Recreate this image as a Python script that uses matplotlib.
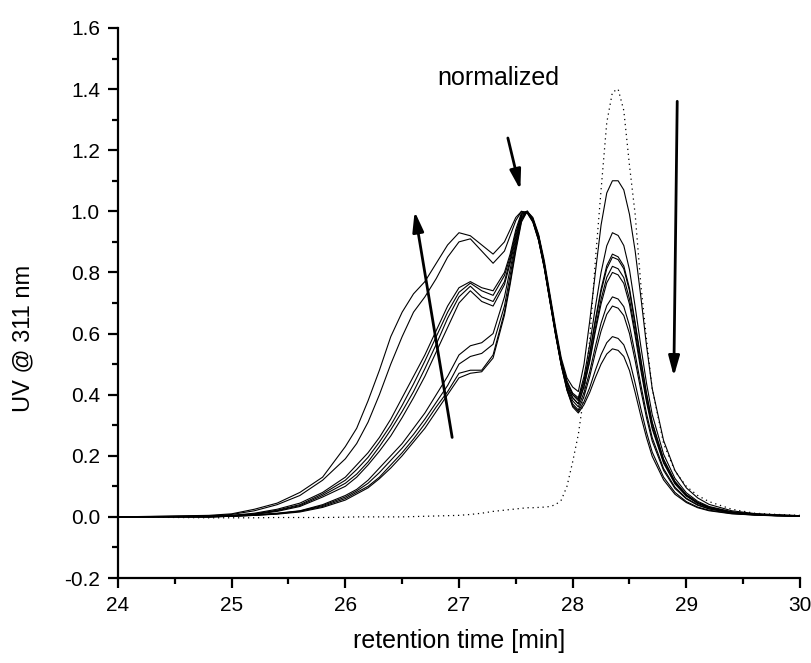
import matplotlib
matplotlib.use("Agg")
import matplotlib.pyplot as plt

plt.rcParams['font.family'] = ['Liberation Sans', 'DejaVu Sans']
plt.rcParams['axes.unicode_minus'] = False

# retention time grid [min]
t = [24.0, 24.8, 25.0, 25.2, 25.4, 25.6, 25.8, 26.0, 26.1, 26.2, 26.3, 26.4, 26.5,
     26.6, 26.7, 26.8, 26.9, 27.0, 27.1, 27.2, 27.3, 27.4, 27.45, 27.5, 27.55,
     27.6, 27.65, 27.7, 27.75, 27.8, 27.85, 27.9, 27.95, 28.0, 28.05, 28.1, 28.15,
     28.2, 28.25, 28.3, 28.35, 28.4, 28.45, 28.5, 28.55, 28.6, 28.65, 28.7, 28.8,
     28.9, 29.0, 29.1, 29.2, 29.4, 29.6, 29.8, 30.0]

# normalized traces (solid)
a1 = [0.0, 0.005, 0.01, 0.025, 0.045, 0.08, 0.13, 0.23, 0.29, 0.38, 0.48, 0.59, 0.67,
      0.73, 0.77, 0.83, 0.89, 0.93, 0.92, 0.89, 0.86, 0.90, 0.94, 0.98, 1.0,
      0.995, 0.965, 0.905, 0.815, 0.705, 0.595, 0.495, 0.415, 0.36, 0.34, 0.367, 0.407,
      0.456, 0.50, 0.533, 0.55, 0.545, 0.525, 0.479, 0.407, 0.33, 0.259, 0.198, 0.121,
      0.074, 0.047, 0.03, 0.02, 0.01, 0.006, 0.003, 0.002]
a2 = [0.0, 0.003, 0.008, 0.02, 0.04, 0.07, 0.12, 0.19, 0.24, 0.31, 0.40, 0.50, 0.59,
      0.67, 0.72, 0.78, 0.85, 0.90, 0.91, 0.87, 0.83, 0.87, 0.92, 0.97, 1.0,
      0.995, 0.965, 0.905, 0.815, 0.705, 0.595, 0.495, 0.415, 0.365, 0.345, 0.377, 0.423,
      0.48, 0.531, 0.57, 0.59, 0.584, 0.563, 0.513, 0.437, 0.354, 0.277, 0.212, 0.13,
      0.08, 0.05, 0.032, 0.022, 0.011, 0.006, 0.004, 0.002]
b1 = [0.0, 0.002, 0.005, 0.012, 0.025, 0.045, 0.08, 0.13, 0.17, 0.21, 0.26, 0.32, 0.39,
      0.46, 0.53, 0.61, 0.69, 0.75, 0.77, 0.75, 0.74, 0.80, 0.86, 0.94, 0.995,
      1.0, 0.97, 0.91, 0.82, 0.71, 0.60, 0.50, 0.42, 0.37, 0.35, 0.394, 0.459,
      0.537, 0.608, 0.663, 0.69, 0.683, 0.659, 0.60, 0.511, 0.414, 0.324, 0.248, 0.152,
      0.093, 0.059, 0.038, 0.026, 0.012, 0.007, 0.004, 0.003]
b2 = [0.0, 0.002, 0.004, 0.01, 0.022, 0.04, 0.075, 0.12, 0.155, 0.195, 0.245, 0.30, 0.365,
      0.435, 0.51, 0.59, 0.67, 0.735, 0.765, 0.74, 0.725, 0.79, 0.85, 0.93, 0.99,
      1.0, 0.97, 0.91, 0.82, 0.71, 0.60, 0.50, 0.425, 0.38, 0.36, 0.407, 0.475,
      0.558, 0.634, 0.691, 0.72, 0.713, 0.688, 0.626, 0.533, 0.432, 0.338, 0.259, 0.158,
      0.097, 0.061, 0.04, 0.027, 0.013, 0.007, 0.004, 0.003]
b3 = [0.0, 0.001, 0.004, 0.009, 0.02, 0.037, 0.07, 0.11, 0.14, 0.18, 0.23, 0.285, 0.345,
      0.41, 0.485, 0.565, 0.65, 0.72, 0.755, 0.72, 0.705, 0.77, 0.84, 0.92, 0.99,
      1.0, 0.97, 0.91, 0.82, 0.71, 0.60, 0.50, 0.43, 0.39, 0.37, 0.426, 0.508,
      0.607, 0.697, 0.766, 0.80, 0.792, 0.764, 0.696, 0.592, 0.48, 0.376, 0.288, 0.176,
      0.108, 0.068, 0.044, 0.03, 0.014, 0.008, 0.005, 0.003]
b4 = [0.0, 0.001, 0.003, 0.008, 0.018, 0.034, 0.065, 0.10, 0.13, 0.17, 0.215, 0.265, 0.325,
      0.39, 0.46, 0.54, 0.62, 0.70, 0.74, 0.705, 0.69, 0.76, 0.83, 0.91, 0.985,
      1.0, 0.97, 0.91, 0.82, 0.71, 0.60, 0.50, 0.43, 0.39, 0.37, 0.429, 0.514,
      0.618, 0.712, 0.784, 0.82, 0.812, 0.783, 0.713, 0.607, 0.492, 0.385, 0.295, 0.18,
      0.111, 0.07, 0.045, 0.03, 0.015, 0.008, 0.005, 0.003]
c1 = [0.0, 0.0, 0.003, 0.007, 0.012, 0.02, 0.04, 0.07, 0.09, 0.12, 0.16, 0.20, 0.24,
      0.29, 0.34, 0.40, 0.46, 0.53, 0.56, 0.57, 0.60, 0.72, 0.81, 0.90, 0.98,
      1.0, 0.975, 0.92, 0.83, 0.72, 0.61, 0.51, 0.44, 0.40, 0.38, 0.441, 0.53,
      0.639, 0.737, 0.812, 0.85, 0.842, 0.812, 0.74, 0.629, 0.51, 0.40, 0.306, 0.187,
      0.115, 0.072, 0.047, 0.031, 0.015, 0.009, 0.005, 0.003]
c2 = [0.0, 0.0, 0.002, 0.006, 0.011, 0.019, 0.037, 0.065, 0.085, 0.11, 0.145, 0.185, 0.225,
      0.27, 0.32, 0.375, 0.43, 0.50, 0.525, 0.535, 0.565, 0.69, 0.79, 0.89, 0.975,
      1.0, 0.975, 0.92, 0.83, 0.72, 0.61, 0.51, 0.44, 0.40, 0.385, 0.447, 0.537,
      0.646, 0.746, 0.822, 0.86, 0.851, 0.821, 0.748, 0.636, 0.516, 0.404, 0.31, 0.189,
      0.116, 0.073, 0.047, 0.032, 0.015, 0.009, 0.005, 0.003]
c3 = [0.0, 0.0, 0.002, 0.005, 0.01, 0.018, 0.034, 0.06, 0.08, 0.10, 0.13, 0.17, 0.21,
      0.255, 0.305, 0.36, 0.41, 0.47, 0.48, 0.48, 0.53, 0.67, 0.77, 0.88, 0.97,
      1.0, 0.975, 0.92, 0.83, 0.72, 0.61, 0.51, 0.445, 0.405, 0.39, 0.46, 0.563,
      0.687, 0.80, 0.887, 0.93, 0.921, 0.888, 0.809, 0.688, 0.558, 0.437, 0.335, 0.205,
      0.126, 0.079, 0.051, 0.034, 0.017, 0.009, 0.006, 0.004]
c4 = [0.0, 0.0, 0.002, 0.005, 0.009, 0.016, 0.031, 0.055, 0.075, 0.095, 0.125, 0.16, 0.20,
      0.245, 0.29, 0.345, 0.40, 0.455, 0.47, 0.475, 0.52, 0.66, 0.76, 0.87, 0.965,
      1.0, 0.98, 0.925, 0.84, 0.73, 0.62, 0.52, 0.455, 0.425, 0.41, 0.50, 0.64,
      0.80, 0.955, 1.06, 1.10, 1.10, 1.07, 0.99, 0.87, 0.72, 0.56, 0.42, 0.25,
      0.152, 0.095, 0.062, 0.041, 0.02, 0.011, 0.007, 0.004]

# reference trace (dotted)
ref = [0.0, -0.003, -0.003, -0.003, -0.002, -0.002, -0.002, -0.001, 0.0, 0.0, 0.0, 0.0, 0.0,
       0.001, 0.002, 0.003, 0.004, 0.005, 0.008, 0.012, 0.018, 0.022, 0.024, 0.026, 0.028,
       0.03, 0.03, 0.031, 0.032, 0.034, 0.04, 0.055, 0.10, 0.18, 0.27, 0.40, 0.58,
       0.84, 1.07, 1.29, 1.39, 1.40, 1.33, 1.15, 0.99, 0.76, 0.58, 0.42, 0.24,
       0.15, 0.10, 0.07, 0.05, 0.025, 0.012, 0.008, 0.005]

traces = [a1, a2, b1, b2, b3, b4, c1, c2, c3, c4]

fig = plt.figure(figsize=(8.12, 6.63), dpi=100)
ax = fig.add_axes([0.1453, 0.1282, 0.8399, 0.8296])

for y in traces:
    ax.plot(t, y, color='black', lw=0.8)
ax.plot(t, ref, color='black', lw=0.9, linestyle=(0, (1, 3)))

# arrows
arrow = dict(arrowstyle='-|>,head_length=0.8,head_width=0.22', color='black',
             lw=2, mutation_scale=15, shrinkA=0, shrinkB=0)
ax.annotate('', xy=(26.61, 1.0), xytext=(26.94, 0.26), arrowprops=arrow)
ax.annotate('', xy=(28.89, 0.46), xytext=(28.92, 1.36), arrowprops=arrow)
ax.annotate('', xy=(27.54, 1.07), xytext=(27.43, 1.24), arrowprops=arrow)
ax.text(27.35, 1.435, 'normalized', fontsize=18, ha='center', va='center')

ax.set_xlim(24, 30)
ax.set_ylim(-0.2, 1.6)
ax.set_xticks([24, 25, 26, 27, 28, 29, 30])
ax.set_xticks([24.5, 25.5, 26.5, 27.5, 28.5, 29.5], minor=True)
ax.set_yticks([-0.2, 0.0, 0.2, 0.4, 0.6, 0.8, 1.0, 1.2, 1.4, 1.6])
ax.set_yticks([-0.1, 0.1, 0.3, 0.5, 0.7, 0.9, 1.1, 1.3, 1.5], minor=True)
ax.set_yticklabels(['%.1f' % v for v in ax.get_yticks()])

for s in ['top', 'right']:
    ax.spines[s].set_visible(False)
for s in ['left', 'bottom']:
    ax.spines[s].set_linewidth(1.6)
ax.tick_params(which='major', direction='out', length=7, width=1.6, labelsize=15, pad=6)
ax.tick_params(which='minor', direction='out', length=4, width=1.6)

ax.set_xlabel('retention time [min]', fontsize=18, labelpad=10)
ax.set_ylabel('UV @ 311 nm', fontsize=17)
ax.yaxis.set_label_coords(-0.123, 0.435)

fig.savefig('out.png', dpi=100)
